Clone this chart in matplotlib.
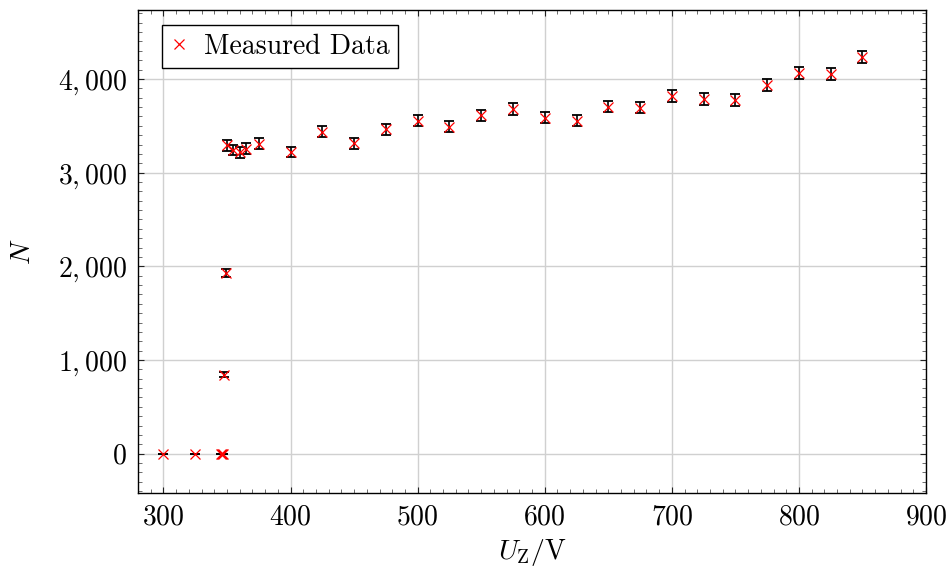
import numpy as np
import matplotlib
matplotlib.use('Agg')
import matplotlib.pyplot as plt
from matplotlib.ticker import MultipleLocator, FuncFormatter

# ── Data ─────────────────────────────────────────────────────────────────────
U_Z = [300, 325, 345, 346, 347, 348, 349, 350, 355, 360, 365, 375,
       400, 425, 450, 475, 500, 525, 550, 575, 600, 625, 650, 675,
       700, 725, 750, 775, 800, 825, 850]
N = [0, 0, 0, 0, 0, 845, 1930, 3290, 3240, 3215, 3255, 3310,
     3220, 3435, 3315, 3465, 3555, 3490, 3610, 3680, 3585, 3553, 3705, 3692,
     3818, 3785, 3775, 3935, 4065, 4050, 4235]
N_err = [0, 0, 0, 0, 0, 29, 44, 57, 57, 57, 57, 58,
         57, 59, 58, 59, 60, 59, 60, 61, 60, 60, 61, 61,
         62, 62, 61, 63, 64, 64, 65]

x_ticks = [300, 400, 500, 600, 700, 800, 900]
y_ticks = [0, 1000, 2000, 3000, 4000]

# ── Style (pgfplots look) ────────────────────────────────────────────────────
plt.rcParams['font.family'] = 'serif'
plt.rcParams['font.serif'] = ['cmr10', 'DejaVu Serif']
plt.rcParams['mathtext.fontset'] = 'cm'
plt.rcParams['axes.unicode_minus'] = False
plt.rcParams['axes.formatter.use_mathtext'] = True

FS = 20

fig = plt.figure(figsize=(9.52, 5.74), dpi=100)
ax = fig.add_axes([0.145, 0.141, 0.8277, 0.8415])

ax.errorbar(U_Z, N, yerr=N_err, fmt='none', ecolor='black',
            elinewidth=1.2, capsize=3.8, capthick=1.3, zorder=3)
ax.plot(U_Z, N, 'x', color='red', ms=7.5, mew=0.9, zorder=4,
        label='Measured Data')

ax.set_xlim(280, 900)
ax.set_ylim(-420, 4735)
ax.set_xticks(x_ticks)
ax.set_yticks(y_ticks)
ax.xaxis.set_minor_locator(MultipleLocator(10))
ax.yaxis.set_minor_locator(MultipleLocator(100))
ax.xaxis.set_major_formatter(FuncFormatter(lambda v, p: '${:d}$'.format(int(v))))
ax.yaxis.set_major_formatter(FuncFormatter(lambda v, p: '${:,d}$'.format(int(v))))

ax.tick_params(which='both', direction='in', top=True, right=True,
               labelsize=FS)
ax.tick_params(which='major', length=4.5, width=0.8, color='#222222', pad=8)
ax.tick_params(which='minor', length=2.6, width=0.6, color='#555555')

ax.grid(True, which='major', color='#d0d0d0', lw=1.0, zorder=0)
ax.set_axisbelow(True)
for s in ax.spines.values():
    s.set_linewidth(1.0)
    s.set_color('black')

ax.set_xlabel(r'$U_\mathrm{Z}/\mathrm{V}$', fontsize=FS, labelpad=5)
ax.set_ylabel(r'$N$', fontsize=FS, labelpad=16)

leg = ax.legend(loc='upper left', bbox_to_anchor=(0.031, 0.969),
                borderaxespad=0, fontsize=FS, fancybox=False,
                edgecolor='black', framealpha=1, handlelength=0.6,
                handletextpad=0.6, borderpad=0.3, markerscale=0.9)
leg.get_frame().set_linewidth(1.0)

fig.savefig('out.png', dpi=100)
